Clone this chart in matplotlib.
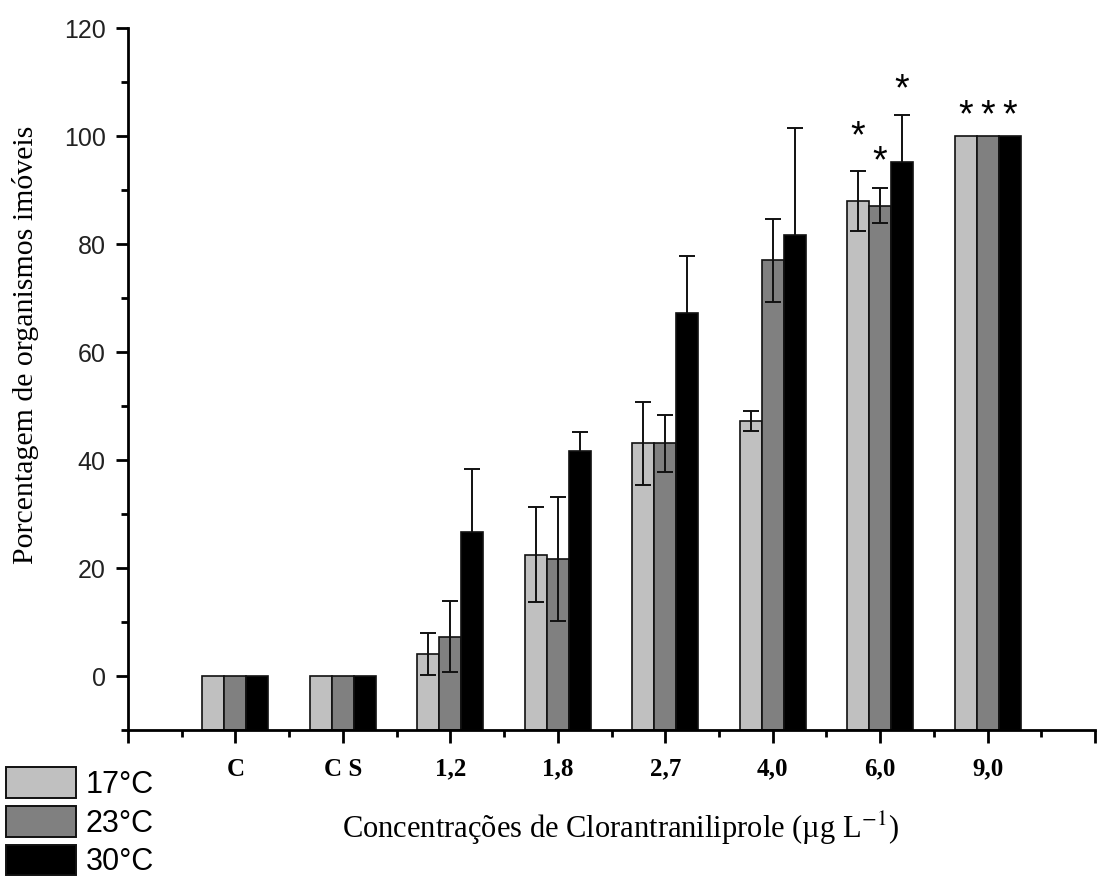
import matplotlib
matplotlib.use("Agg")
import matplotlib.pyplot as plt
import matplotlib.patches as mpatches
from matplotlib.ticker import MultipleLocator
import numpy as np

plt.rcParams['mathtext.fontset'] = 'stix'

# Clorantraniliprole concentrations (µg/L) and controls
categorias = ['C', 'C S', '1,2', '1,8', '2,7', '4,0', '6,0', '9,0']

# % immobile organisms (mean) and error for each temperature
t17 = [0, 0, 4.1, 22.5, 43.1, 47.2, 88.0, 100]
e17 = [0, 0, 3.9, 8.8, 7.7, 1.8, 5.6, 0]
t23 = [0, 0, 7.3, 21.6, 43.1, 77.0, 87.1, 100]
e23 = [0, 0, 6.5, 11.5, 5.3, 7.7, 3.3, 0]
t30 = [0, 0, 26.6, 41.6, 67.2, 81.7, 95.1, 100]
e30 = [0, 0, 11.7, 3.6, 10.6, 19.7, 8.7, 0]

temperaturas = ['17°C', '23°C', '30°C']
cores = ['#c0c0c0', '#808080', '#000000']

# significance marks: (concentration index, series index, gap above error bar)
signif = [(6, 0, 7.7), (6, 1, 6.4), (6, 2, 6.2),
          (7, 0, 5.2), (7, 1, 5.2), (7, 2, 5.2)]

fig = plt.figure(figsize=(11.02, 8.77), dpi=100)
ax = fig.add_axes([128/1102, 1-730/877, (1095-128)/1102, (730-28)/877])

x = np.arange(1, len(categorias) + 1)
w = 0.205
base = -10
medias = [t17, t23, t30]
erros = [e17, e23, e30]

for i, (m, e, c) in enumerate(zip(medias, erros, cores)):
    pos = x + (i - 1) * w
    m = np.array(m)
    e = np.array(e)
    ax.bar(pos, m - base, bottom=base, width=w, color=c,
           edgecolor='#111111', linewidth=1.2, zorder=2)
    ok = e > 0
    # the black series hides the lower half of its error bar
    ez = 1.5 if i == 2 else 3
    ax.errorbar(pos[ok], m[ok], yerr=e[ok], fmt='none', ecolor='#111111',
                elinewidth=1.4, capsize=6, capthick=1.4, zorder=ez)

for g, s, gap in signif:
    y = medias[s][g] + erros[s][g] + gap
    ax.text(x[g] + (s - 1) * w, y - 1.6, '*', ha='center', va='center',
            fontsize=27, family='Liberation Sans', zorder=4)

ax.set_xlim(0, 9)
ax.set_ylim(-10, 120)

ax.set_xticks(range(0, 10))
ax.set_xticklabels([''] + categorias + [''], family='Liberation Serif',
                   fontweight='bold', fontsize=18)
ax.xaxis.set_minor_locator(MultipleLocator(0.5))
ax.set_yticks(range(0, 121, 20))
ax.yaxis.set_minor_locator(MultipleLocator(10))
for lab in ax.get_yticklabels():
    lab.set_family('Liberation Sans')
    lab.set_fontsize(18)
    lab.set_color('#222222')

ax.tick_params(which='major', direction='out', length=9, width=2, color='black')
ax.tick_params(which='minor', direction='out', length=5, width=2, color='black')
ax.tick_params(axis='x', which='major', pad=11)
ax.tick_params(axis='y', which='major', pad=7)

for side in ['top', 'right']:
    ax.spines[side].set_visible(False)
for side in ['left', 'bottom']:
    ax.spines[side].set_linewidth(2)

fig.text(26/1102, 1-345/877, 'Porcentagem de organismos imóveis', rotation=90,
         ha='center', va='center', family='Liberation Serif', fontsize=21.5)
fig.text(620/1102, 1-838/877, 'Concentrações de Clorantraniliprole (µg L$^{-1}$)',
         ha='center', va='baseline', family='Liberation Serif', fontsize=22)

handles = [mpatches.Patch(facecolor=c, edgecolor='#111111', linewidth=1.4)
           for c in cores]
fig.legend(handles, temperaturas, loc='upper left',
           bbox_to_anchor=(6/1102, 1-767/877), frameon=False,
           prop={'family': 'Liberation Sans', 'size': 22},
           handlelength=2.3, handleheight=1.17, labelspacing=0.2,
           handletextpad=0.3, borderpad=0, borderaxespad=0)

fig.savefig('out.png', dpi=100)
